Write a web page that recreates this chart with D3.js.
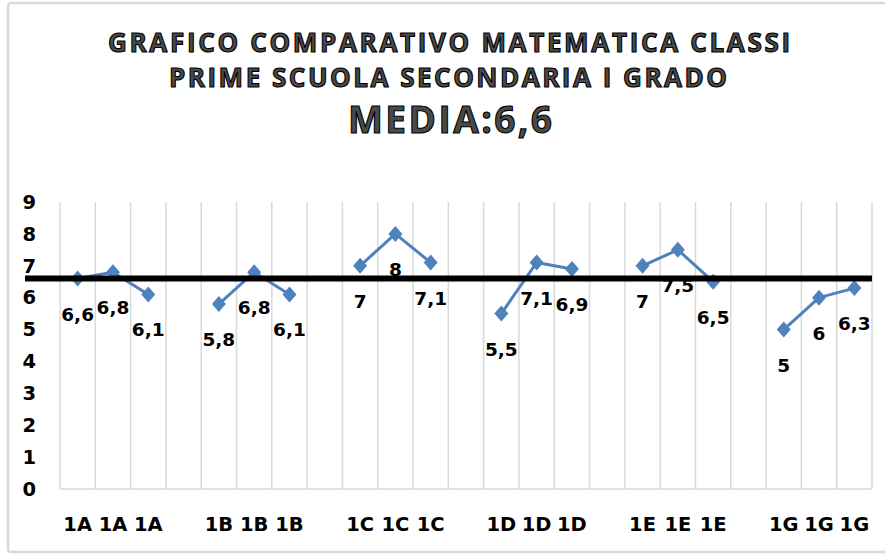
<!DOCTYPE html>
<html>
<head>
<meta charset="utf-8">
<script src="https://cdn.jsdelivr.net/npm/d3@7"></script>
<style>
  html, body { margin: 0; padding: 0; background: #fff; }
  svg { display: block; }
</style>
</head>
<body>
<svg id="chart" width="885" height="554"></svg>
<script>
// Class labels along the x axis (empty slots separate the groups)
const categories = [
  "1A", "1A", "1A", "",
  "1B", "1B", "1B", "",
  "1C", "1C", "1C", "",
  "1D", "1D", "1D", "",
  "1E", "1E", "1E", "",
  "1G", "1G", "1G"
];
// Average maths marks per class (null = gap between groups)
const marks = [
  6.6, 6.8, 6.1, null,
  5.8, 6.8, 6.1, null,
  7, 8, 7.1, null,
  5.5, 7.1, 6.9, null,
  7, 7.5, 6.5, null,
  5, 6, 6.3
];
const yTicks = [0, 1, 2, 3, 4, 5, 6, 7, 8, 9];
const meanValue = 6.6;
const titleLines = [
  "GRAFICO COMPARATIVO MATEMATICA CLASSI",
  "PRIME SCUOLA SECONDARIA I GRADO"
];
const meanTitle = "MEDIA:6,6";

const svg = d3.select("#chart");
const plot = { left: 60, right: 872, top: 202, bottom: 489 };

// outer frame
svg.append("rect")
  .attr("x", 8).attr("y", 3)
  .attr("width", 900).attr("height", 549)
  .attr("rx", 3)
  .attr("fill", "#fff")
  .attr("stroke", "#d9d9d9")
  .attr("stroke-width", 2.5);

const idx = d3.range(categories.length);
const x = d3.scaleBand().domain(idx).range([plot.left, plot.right]).padding(0);
const y = d3.scaleLinear().domain([0, 9]).range([plot.bottom, plot.top]);

// vertical gridlines on category boundaries
const bounds = idx.map(i => x(i)).concat([plot.right]);
svg.append("g").selectAll("line")
  .data(bounds)
  .join("line")
  .attr("x1", d => d).attr("x2", d => d)
  .attr("y1", y(9)).attr("y2", y(0))
  .attr("stroke", "#d9d9d9")
  .attr("stroke-width", 1.5);

// bottom axis line
svg.append("line")
  .attr("x1", plot.left).attr("x2", plot.right)
  .attr("y1", y(0)).attr("y2", y(0))
  .attr("stroke", "#d9d9d9")
  .attr("stroke-width", 1.5);

const boldText = (sel, size) => sel
  .attr("font-family", "DejaVu Sans")
  .attr("font-weight", "bold")
  .attr("font-size", size)
  .attr("fill", "#000");

// y axis labels
const yAxis = d3.axisLeft(y).tickValues(yTicks).tickSize(0).tickPadding(24)
  .tickFormat(d3.format("d"));
const gy = svg.append("g").attr("transform", `translate(${plot.left},0)`).call(yAxis);
gy.select(".domain").remove();
gy.selectAll("text").call(boldText, 19.5);

// x axis labels
const xAxis = d3.axisBottom(x).tickSize(0).tickPadding(28)
  .tickFormat(i => categories[i]);
const gx = svg.append("g").attr("transform", `translate(0,${plot.bottom})`).call(xAxis);
gx.select(".domain").remove();
gx.selectAll("text").call(boldText, 19.5);

const cx = i => x(i) + x.bandwidth() / 2;
const pts = idx.map(i => ({ i, v: marks[i] }));
const blue = "#4f81bd";

// series line, broken at the gaps
const line = d3.line()
  .defined(d => d.v != null)
  .x(d => cx(d.i))
  .y(d => y(d.v));
svg.append("path")
  .datum(pts)
  .attr("d", line)
  .attr("fill", "none")
  .attr("stroke", blue)
  .attr("stroke-width", 3)
  .attr("stroke-linejoin", "round");

// diamond markers
const valid = pts.filter(d => d.v != null);
svg.append("g").selectAll("path")
  .data(valid)
  .join("path")
  .attr("transform", d => `translate(${cx(d.i)},${y(d.v)})`)
  .attr("d", "M0,-8L7,0L0,8L-7,0Z")
  .attr("fill", blue);

// mean line with soft shadow
const defs = svg.append("defs");
defs.append("filter").attr("id", "soft")
  .attr("x", "-5%").attr("y", "-200%").attr("width", "110%").attr("height", "500%")
  .append("feGaussianBlur").attr("stdDeviation", 2);
svg.append("line")
  .attr("x1", 25).attr("x2", 872)
  .attr("y1", y(meanValue) + 4).attr("y2", y(meanValue) + 4)
  .attr("stroke", "#000").attr("stroke-opacity", 0.35)
  .attr("stroke-width", 6)
  .attr("filter", "url(#soft)");
svg.append("line")
  .attr("x1", 25).attr("x2", 872)
  .attr("y1", y(meanValue)).attr("y2", y(meanValue))
  .attr("stroke", "#000")
  .attr("stroke-width", 6);

// data labels below each point
const fmt = v => String(v).replace(".", ",");
svg.append("g").selectAll("text")
  .data(valid)
  .join("text")
  .attr("x", d => cx(d.i))
  .attr("y", d => y(d.v) + 42)
  .attr("text-anchor", "middle")
  .call(boldText, 18.5)
  .text(d => fmt(d.v));

// title block
const titleStyle = sel => sel
  .attr("text-anchor", "middle")
  .attr("font-family", "Open Sans")
  .attr("font-weight", "bold")
  .attr("fill", "#4a4a4a")
  .attr("stroke", "#000")
  .attr("stroke-width", 1.1)
  .attr("lengthAdjust", "spacing");

svg.append("text").call(titleStyle)
  .attr("x", 449).attr("y", 52)
  .attr("font-size", 26)
  .attr("textLength", 682)
  .text(titleLines[0]);
svg.append("text").call(titleStyle)
  .attr("x", 448).attr("y", 87)
  .attr("font-size", 26)
  .attr("textLength", 558)
  .text(titleLines[1]);
svg.append("text").call(titleStyle)
  .attr("x", 450).attr("y", 133)
  .attr("font-size", 37)
  .attr("textLength", 204)
  .text(meanTitle);
</script>
</body>
</html>
